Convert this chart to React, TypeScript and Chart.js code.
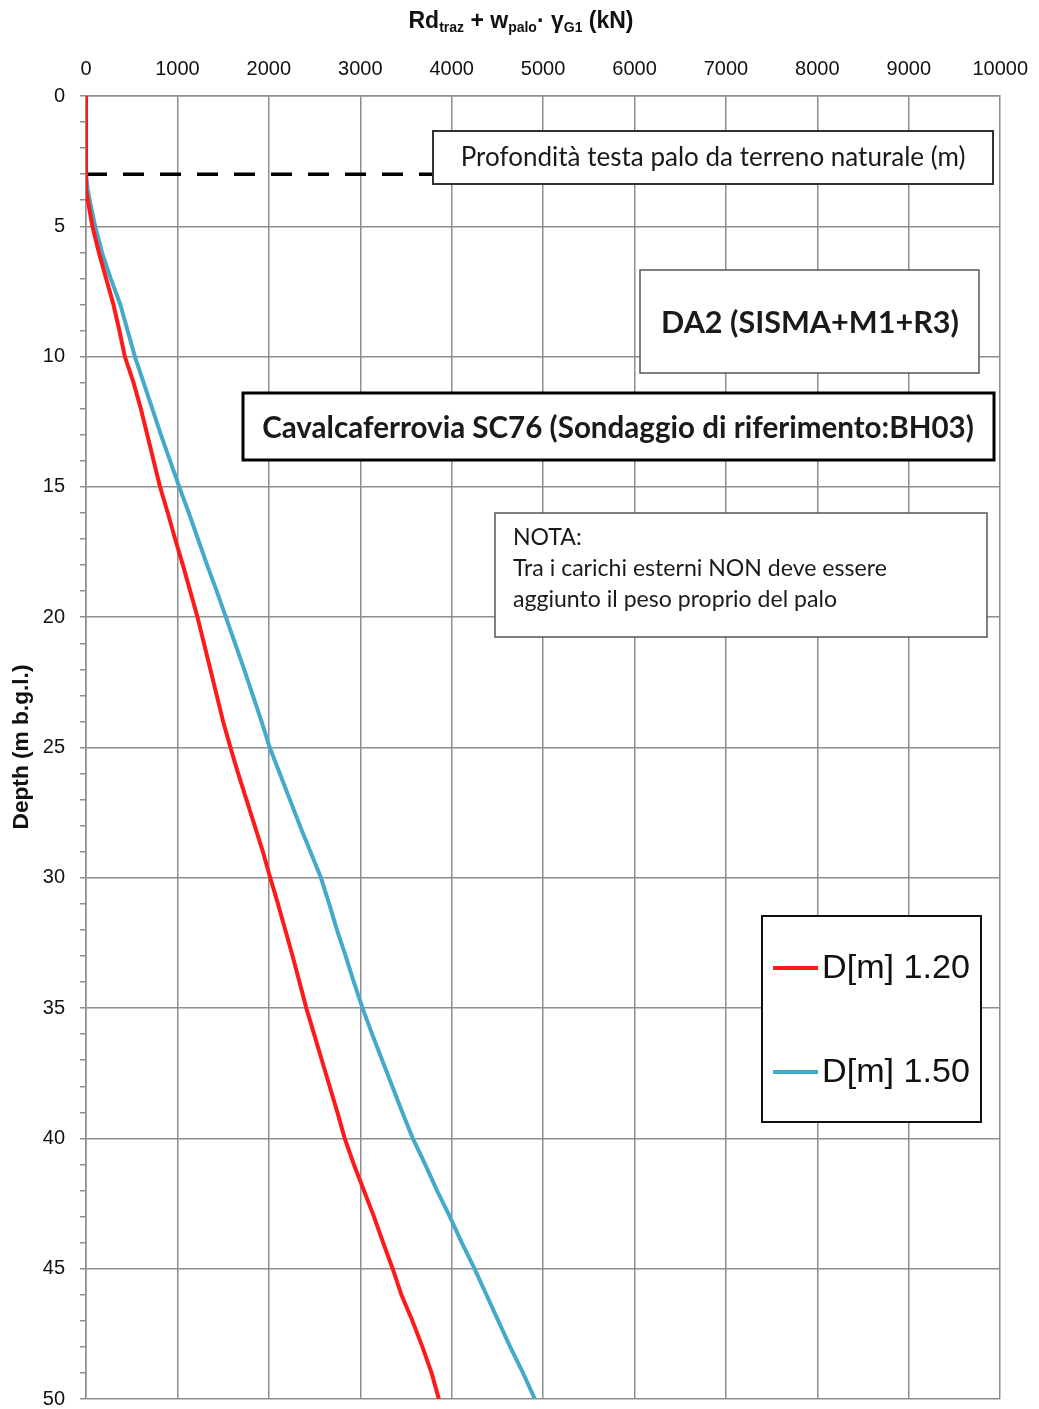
import React, { useEffect, useRef } from 'react';
import { Chart, registerables } from 'chart.js';

Chart.register(...registerables);

// Depth below ground level (m)
const depths = [0, 3, 3.6, 4, 5, 6, 7, 8, 9, 10, 11, 12, 13, 14, 15, 16, 17, 18, 19, 20, 21, 22, 23, 24, 25, 26, 27, 28, 29, 30, 31, 32, 33, 34, 35, 36, 37, 38, 39, 40, 41, 42, 43, 44, 45, 46, 47, 48, 49, 50];
// Rd_traz + w_palo * gammaG1 (kN) for D = 1.20 m
const resistD120 = [0, 0, 0, 20, 70, 140, 220, 300, 365, 425, 520, 600, 670, 740, 810, 895, 975, 1060, 1140, 1220, 1290, 1360, 1430, 1500, 1580, 1665, 1755, 1845, 1935, 2015, 2100, 2180, 2260, 2335, 2410, 2495, 2580, 2665, 2750, 2830, 2930, 3040, 3150, 3250, 3355, 3450, 3570, 3680, 3780, 3860];
// Rd_traz + w_palo * gammaG1 (kN) for D = 1.50 m
const resistD150 = [0, 0, 20, 40, 100, 175, 270, 375, 455, 535, 630, 725, 820, 920, 1020, 1125, 1225, 1325, 1430, 1530, 1630, 1730, 1825, 1920, 2010, 2120, 2230, 2340, 2455, 2570, 2660, 2745, 2840, 2930, 3025, 3130, 3240, 3350, 3460, 3575, 3710, 3840, 3980, 4110, 4250, 4380, 4510, 4640, 4780, 4910];

const seriesLabels = ['D[m] 1.20', 'D[m] 1.50'];
const seriesColors = ['#ff1a1a', '#45a9c8'];

// Pile head depth from natural ground (m) and extent of the marker line (kN)
const headDepth = [3, 3];
const headLineX = [0, 3800];

const xTickValues = [0, 1000, 2000, 3000, 4000, 5000, 6000, 7000, 8000, 9000, 10000];
const yMajorTicks = [0, 5, 10, 15, 20, 25, 30, 35, 40, 45, 50];

const titleParts = [
  { t: 'Rd', sub: false },
  { t: 'traz', sub: true },
  { t: ' + w', sub: false },
  { t: 'palo', sub: true },
  { t: '\u00b7 \u03b3', sub: false },
  { t: 'G1', sub: true },
  { t: ' (kN)', sub: false },
];
const yTitle = 'Depth (m b.g.l.)';
const headNote = 'Profondit\u00e0 testa palo da terreno naturale (m)';
const caseLabel = 'DA2 (SISMA+M1+R3)';
const siteLabel = 'Cavalcaferrovia SC76 (Sondaggio di riferimento:BH03)';
const noteLines = ['NOTA:', 'Tra i carichi esterni NON deve essere', 'aggiunto il peso proprio del palo'];

const GRID = '#8e8e8e';
const BODY_FONT = 'Lato, "Open Sans", sans-serif';
const AX_FONT = '"Liberation Sans", Arial, sans-serif';

function fitSize(ctx: CanvasRenderingContext2D, text: string, weight: string, family: string, target: number) {
  ctx.font = `${weight} 100px ${family}`;
  const w = ctx.measureText(text).width;
  return (100 * target) / w;
}

function box(ctx: CanvasRenderingContext2D, x: number, y: number, w: number, h: number, lw: number, color: string) {
  ctx.save();
  ctx.fillStyle = '#ffffff';
  ctx.fillRect(x, y, w, h);
  ctx.lineWidth = lw;
  ctx.strokeStyle = color;
  ctx.strokeRect(x, y, w, h);
  ctx.restore();
}

const overlayPlugin = {
  id: 'overlay',
  afterDatasetsDraw(chart: any) {
    const ctx: CanvasRenderingContext2D = chart.ctx;
    ctx.save();
    ctx.textBaseline = 'middle';
    ctx.fillStyle = '#1a1a1a';

    // Head depth note
    box(ctx, 433, 131, 560, 53, 2, '#333');
    let s = fitSize(ctx, headNote, 'normal', BODY_FONT, 505);
    ctx.font = `normal ${s}px ${BODY_FONT}`;
    ctx.textAlign = 'center';
    ctx.fillText(headNote, 713, 158);

    // Case label
    box(ctx, 640, 270, 339, 103, 1.5, '#555');
    s = fitSize(ctx, caseLabel, 'bold', BODY_FONT, 298);
    ctx.font = `bold ${s}px ${BODY_FONT}`;
    ctx.fillText(caseLabel, 810, 323);

    // Site label
    box(ctx, 243, 393, 751, 67, 3, '#000');
    s = fitSize(ctx, siteLabel, 'bold', BODY_FONT, 712);
    ctx.font = `bold ${s}px ${BODY_FONT}`;
    ctx.fillText(siteLabel, 618, 428);

    // Note
    box(ctx, 495, 513, 492, 124, 1.5, '#555');
    s = fitSize(ctx, noteLines[1], 'normal', BODY_FONT, 374);
    ctx.font = `normal ${s}px ${BODY_FONT}`;
    ctx.textAlign = 'left';
    noteLines.forEach((ln, i) => ctx.fillText(ln, 513, 538 + i * 31));

    // Legend
    box(ctx, 762, 916, 219, 206, 2, '#111');
    const ds = chart.data.datasets.slice(0, 2);
    s = fitSize(ctx, ds[0].label, 'normal', AX_FONT, 148);
    ds.forEach((d: any, i: number) => {
      const y = 968 + i * 104;
      ctx.strokeStyle = d.borderColor;
      ctx.lineWidth = 4;
      ctx.beginPath();
      ctx.moveTo(773, y);
      ctx.lineTo(818, y);
      ctx.stroke();
      ctx.font = `normal ${s}px ${AX_FONT}`;
      ctx.fillStyle = '#111';
      ctx.fillText(d.label, 822, y + 1);
    });
    ctx.restore();
  },
  afterDraw(chart: any) {
    const ctx: CanvasRenderingContext2D = chart.ctx;
    ctx.save();
    ctx.fillStyle = '#111';
    ctx.textBaseline = 'alphabetic';
    ctx.textAlign = 'left';
    const mainF = `bold 23px ${AX_FONT}`;
    const subF = `bold 14px ${AX_FONT}`;
    let total = 0;
    titleParts.forEach((p) => {
      ctx.font = p.sub ? subF : mainF;
      total += ctx.measureText(p.t).width;
    });
    let x = 521 - total / 2;
    titleParts.forEach((p) => {
      ctx.font = p.sub ? subF : mainF;
      ctx.fillText(p.t, x, p.sub ? 32 : 28);
      x += ctx.measureText(p.t).width;
    });

    // Y title
    ctx.translate(22, 747);
    ctx.rotate(-Math.PI / 2);
    const s = fitSize(ctx, yTitle, 'bold', AX_FONT, 165);
    ctx.font = `bold ${s}px ${AX_FONT}`;
    ctx.textAlign = 'center';
    ctx.textBaseline = 'middle';
    ctx.fillText(yTitle, 0, 0);
    ctx.restore();
  },
};

export default function App() {
  const ref = useRef<HTMLCanvasElement | null>(null);

  useEffect(() => {
    if (!ref.current) return;
    const mk = (vals: number[]) => depths.map((d, i) => ({ x: vals[i], y: d }));
    const chart = new Chart(ref.current, {
      type: 'scatter',
      data: {
        datasets: [
          {
            label: seriesLabels[0],
            data: mk(resistD120),
            showLine: true,
            borderColor: seriesColors[0],
            backgroundColor: seriesColors[0],
            borderWidth: 4,
            pointRadius: 0,
            tension: 0,
          },
          {
            label: seriesLabels[1],
            data: mk(resistD150),
            showLine: true,
            borderColor: seriesColors[1],
            backgroundColor: seriesColors[1],
            borderWidth: 4,
            pointRadius: 0,
            tension: 0,
          },
          {
            label: 'head',
            data: headLineX.map((x, i) => ({ x, y: headDepth[i] })),
            showLine: true,
            borderColor: '#000',
            borderWidth: 3.5,
            borderDash: [21, 16],
            pointRadius: 0,
          },
        ],
      },
      options: {
        responsive: false,
        animation: false,
        devicePixelRatio: 1,
        layout: { padding: { left: 0, top: 0, right: 34, bottom: 0 } },
        plugins: {
          legend: { display: false },
          tooltip: { enabled: false },
          title: { display: false },
        },
        scales: {
          x: {
            type: 'linear',
            position: 'top',
            min: 0,
            max: 10000,
            afterFit: (sc: any) => {
              sc.height = 96;
            },
            afterBuildTicks: (sc: any) => {
              sc.ticks = xTickValues.map((v) => ({ value: v }));
            },
            ticks: {
              autoSkip: false,
              maxRotation: 0,
              padding: 15,
              color: '#111',
              font: { family: AX_FONT, size: 20 },
              callback: (v: any) => String(v),
            },
            grid: { color: GRID, lineWidth: 1.5, drawTicks: false },
            border: { color: GRID, width: 1.5 },
          },
          y: {
            type: 'linear',
            reverse: true,
            min: 0,
            max: 50,
            afterFit: (sc: any) => {
              sc.width = 86;
            },
            ticks: {
              stepSize: 1,
              autoSkip: false,
              padding: 15,
              color: '#111',
              font: { family: AX_FONT, size: 20 },
              callback: (v: any) => (yMajorTicks.includes(Number(v)) ? String(v) : ''),
            },
            grid: {
              color: (c: any) => (c.tick && yMajorTicks.includes(c.tick.value) ? GRID : 'rgba(0,0,0,0)'),
              tickColor: GRID,
              lineWidth: 1.5,
              drawTicks: true,
              tickLength: 6,
            },
            border: { color: GRID, width: 1.5 },
          },
        },
      },
      plugins: [overlayPlugin],
    });
    return () => chart.destroy();
  }, []);

  return (
    <div style={{ position: 'fixed', left: 0, top: 0, width: 1039, height: 1409, overflow: 'hidden', background: '#fff' }}>
      <canvas ref={ref} width={1043} height={1426} />
    </div>
  );
}
